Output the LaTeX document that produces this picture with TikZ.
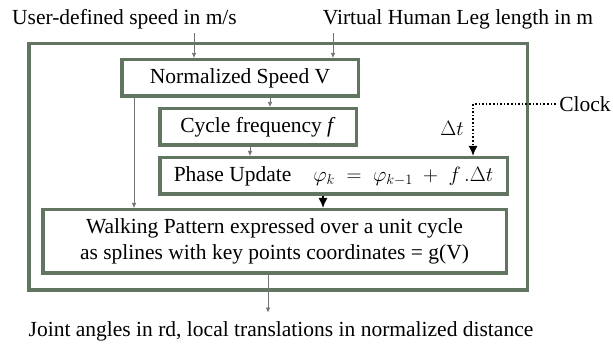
\documentclass[tikz,border=0pt]{standalone}
\usepackage{amsmath,amssymb}
\usepackage{fontspec}
\setmainfont{Liberation Serif}
\usepackage{tikz}
\usetikzlibrary{arrows.meta}
\definecolor{boxgreen}{RGB}{97,117,97}

\begin{document}
\begin{tikzpicture}[x=1pt,y=-1pt,
    font=\fontsize{21.5}{26}\selectfont,
    block/.style={draw=boxgreen,line width=3.5pt,fill=white,inner sep=2pt},
    thinarrow/.style={-{Latex[length=5pt,width=4.5pt]},draw=black!55,line width=0.7pt},
    bigarrow/.style={-{Latex[length=10pt,width=9pt]},line width=1.4pt},
    dotline/.style={-{Latex[length=10pt,width=9pt]},line width=1.6pt,dotted}]

    \useasboundingbox (0,0) rectangle (613,347);

    \node[block,minimum width=498.5pt,minimum height=246.5pt] (sys) at (278,167) {};

    \node[anchor=base] (speed) at (124.5,25) {User-defined speed in m/s};
    \node[anchor=base] (leg) at (458,25) {Virtual Human Leg length in m};

    \node[block,minimum width=236.5pt,minimum height=36.5pt] (norm) at (240,78) {Normalized Speed V};
    \node[block,minimum width=196.5pt,minimum height=36.5pt] (cycle) at (258,127) {Cycle frequency \textit{f}};
    \node[block,minimum width=347.5pt,minimum height=36.5pt] (phase) at (333.5,176)
        {Phase Update\hspace{22pt}$\varphi_{k} \;=\; \varphi_{k-1} \;+\; f\,.\Delta t$};
    \node[block,minimum width=463.5pt,minimum height=63.5pt,align=center] (walk) at (274.5,241.5)
        {Walking Pattern expressed over a unit cycle\\as splines with key points coordinates = g(V)};

    \node[anchor=base] (out) at (281,337) {Joint angles in rd, local translations in normalized distance};
    \node (clock) at (585,104) {Clock};
    \node (dt) at (452,128) {$\Delta t$};

    \coordinate (xs) at (194,0);
    \coordinate (xl) at (333,0);
    \coordinate (xn) at (270,0);
    \coordinate (xc) at (250,0);
    \coordinate (xv) at (134,0);
    \coordinate (xp) at (323,0);
    \coordinate (xo) at (268,0);
    \coordinate (tick) at (473,104);

\draw[thinarrow] (speed.south -| xs) -- (norm.north -| xs);
\draw[thinarrow] (leg.south -| xl) -- (norm.north -| xl);
\draw[thinarrow] (norm.south -| xn) -- (cycle.north -| xn);
\draw[thinarrow] (cycle.south -| xc) -- (phase.north -| xc);
\draw[thinarrow] (norm.south -| xv) -- (walk.north -| xv);
\draw[bigarrow] (phase.south -| xp) -- (walk.north -| xp);
\draw[thinarrow,shorten >=6pt] (walk.south -| xo) -- (out.north -| xo);
\draw[dotline] (clock.west) -- (tick) -- (phase.north -| tick);
\end{tikzpicture}
\end{document}
